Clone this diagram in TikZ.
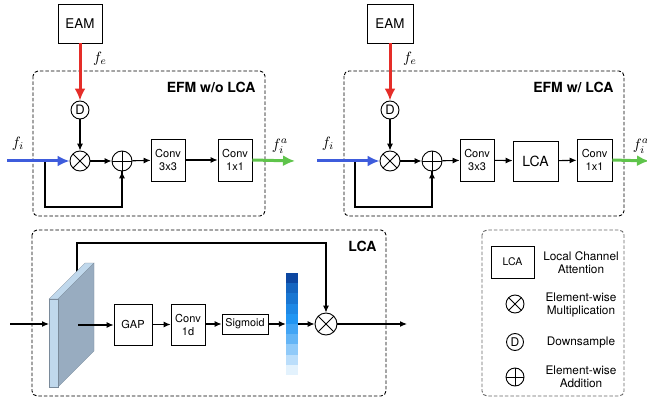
\documentclass[tikz,border=0pt]{standalone}
\usepackage{fontspec}
\setmainfont{TeX Gyre Heros}
\usetikzlibrary{arrows.meta,positioning,calc}
\definecolor{efmred}{RGB}{229,45,40}
\definecolor{efmblue}{RGB}{62,92,220}
\definecolor{efmgreen}{RGB}{95,196,75}
\definecolor{slabfront}{RGB}{192,216,236}
\definecolor{slabside}{RGB}{152,172,192}
\newcommand{\mlbl}[1]{\scalebox{1.5}{$#1$}}
\tikzset{std edge/.style={line width=1.1pt,-{Latex[length=7pt,width=6pt]}},
 bold edge/.style={line width=3pt,-{Latex[length=12pt,width=11pt]}},
 plain edge/.style={line width=1.1pt}}
\begin{document}
\begin{tikzpicture}[x=1pt,y=-1pt,
 blk/.style={draw,line width=0.8pt,align=center,inner sep=0pt,font=\fontsize{11}{13}\selectfont},
 mul/.style={circle,draw,line width=0.9pt,minimum size=#1,inner sep=0pt,
  path picture={\draw[line width=0.9pt] (path picture bounding box.north west)--(path picture bounding box.south east)
   (path picture bounding box.north east)--(path picture bounding box.south west);}},
 mul/.default=20pt,
 add/.style={circle,draw,line width=0.9pt,minimum size=#1,inner sep=0pt,
  path picture={\draw[line width=0.9pt] (path picture bounding box.north)--(path picture bounding box.south)
   (path picture bounding box.west)--(path picture bounding box.east);}},
 add/.default=20pt,
 dsamp/.style={circle,draw,line width=0.9pt,minimum size=18pt,inner sep=0pt,font=\fontsize{13}{13}\selectfont},
 group/.style={draw,line width=0.9pt,dash pattern=on 3.5pt off 2pt,rounded corners=5pt},
 grouptitle/.style={anchor=east,font=\bfseries\fontsize{14}{14}\selectfont},
 mathlbl/.style={inner sep=0pt},
 legtext/.style={align=center,font=\fontsize{11.8}{13}\selectfont}]
\useasboundingbox (0,0) rectangle (647,398);

% EFM without LCA
\draw[group] (33,71) rectangle (265,216);
\node[grouptitle] (T1) at (259,87) {EFM w/o LCA};
\node[blk,minimum width=44pt,minimum height=39pt,font=\fontsize{13.4}{14}\selectfont] (EAM1) at (80,23.5) {EAM};
\node[dsamp] (D1) at (80,110) {D};
\node[mul] (M1) at (80,161) {};
\node[add] (A1) at (122,161) {};
\node[blk,minimum width=34pt,minimum height=42pt] (C31) at (168,160) {Conv\\3x3};
\node[blk,minimum width=34pt,minimum height=42pt] (C11) at (235,160) {Conv\\1x1};
\coordinate (IN1) at (7,161);
\coordinate (SP1) at (45,161);
\coordinate (OUT1) at (295,161);
\node[mathlbl] (FI1) at (18,144) {\mlbl{f_i}};
\node[mathlbl] (FE1) at (100,59) {\mlbl{f_e}};
\node[mathlbl] (FA1) at (280,146) {\mlbl{f^a_i}};

\draw[plain edge] (SP1) -- ++(0,46) -| (A1.south);
\draw[std edge] ($(A1.south)+(0,12)$) -- (A1.south);
\draw[bold edge,efmblue] (IN1) -- (M1.west);
\draw[bold edge,efmred] (EAM1.south) -- (D1.north);
\draw[std edge] (D1) -- (M1);
\draw[std edge] (M1) -- (A1);
\draw[std edge] (A1) -- (C31);
\draw[std edge] (C31) -- (C11);
\draw[bold edge,efmgreen] (C11.east) -- (OUT1);

% EFM with LCA
\draw[group] (344,71) rectangle (624,216);
\node[grouptitle] (T2) at (617,87) {EFM w/ LCA};
\node[blk,minimum width=46pt,minimum height=39pt,font=\fontsize{13.4}{14}\selectfont] (EAM2) at (390,23.5) {EAM};
\node[dsamp] (D2) at (390,110) {D};
\node[mul] (M2) at (390,161) {};
\node[add] (A2) at (432,161) {};
\node[blk,minimum width=34pt,minimum height=42pt] (C32) at (477,160) {Conv\\3x3};
\node[blk,minimum width=45pt,minimum height=40pt,font=\fontsize{14}{14}\selectfont] (LCA2) at (535.5,161) {LCA};
\node[blk,minimum width=35pt,minimum height=42pt] (C12) at (594.5,160) {Conv\\1x1};
\coordinate (IN2) at (317,161);
\coordinate (SP2) at (355,161);
\coordinate (OUT2) at (649,161);
\node[mathlbl] (FI2) at (328,144) {\mlbl{f_i}};
\node[mathlbl] (FE2) at (410,59) {\mlbl{f_e}};
\node[mathlbl] (FA2) at (641,146) {\mlbl{f^a_i}};

\draw[plain edge] (SP2) -- ++(0,46) -| (A2.south);
\draw[std edge] ($(A2.south)+(0,12)$) -- (A2.south);
\draw[bold edge,efmblue] (IN2) -- (M2.west);
\draw[bold edge,efmred] (EAM2.south) -- (D2.north);
\draw[std edge] (D2) -- (M2);
\draw[std edge] (M2) -- (A2);
\draw[std edge] (A2) -- (C32);
\draw[std edge] (C32) -- (LCA2);
\draw[std edge] (LCA2) -- (C12);
\draw[bold edge,efmgreen] (C12.east) -- (OUT2);

% LCA detail
\draw[group] (32,230) rectangle (386,396);
\node[grouptitle] (T3) at (380,246) {LCA};
\coordinate (TOP) at (77,272);
\node[mul=22pt] (M3) at (326,324) {};
\draw[plain edge] (TOP) -- (77,243) -| ($(M3.north)+(0,-10)$);
\draw[std edge] ($(M3.north)+(0,-12)$) -- (M3.north);
% slab
\fill[slabfront,draw=slabside!80!black,line width=0.3pt] (49,299) -- (85,263) -- (94,263) -- (58,299) -- cycle;
\fill[slabside,draw=slabside!80!black,line width=0.3pt] (58,299) -- (94,263) -- (94,351) -- (58,387) -- cycle;
\fill[slabfront,draw=slabside!80!black,line width=0.3pt] (49,299) rectangle (58,387);
\coordinate (IN3) at (10,324);
\coordinate (SLAB) at (49,324);
\coordinate (MID) at (78,325);
\coordinate (OUT3) at (407,324);
\node[blk,minimum width=38pt,minimum height=41pt] (GAP) at (133,324.5) {GAP};
\node[blk,minimum width=34pt,minimum height=41pt] (C1D) at (188,324.5) {Conv\\1d};
\node[blk,minimum width=46pt,minimum height=20pt,font=\fontsize{10.8}{11}\selectfont] (SIG) at (245,324) {Sigmoid};
\foreach \c [count=\k from 0] in {0D47A1,1565C0,1976D2,1E88E5,2196F3,42A5F5,64B5F6,90CAF9,BBDEFB,E3F2FD}{
 \definecolor{barc}{HTML}{\c}
 \fill[barc] (286,{273+10.2*\k}) rectangle (298,{283.2+10.2*\k});
}
\node[minimum width=12pt,minimum height=102pt,inner sep=0pt] (BAR) at (292,324) {};

\draw[std edge] (IN3) -- (SLAB);
\draw[std edge] (MID) -- (GAP.west |- MID);
\draw[std edge] (GAP) -- (C1D);
\draw[std edge] (C1D.east |- SIG) -- (SIG);
\draw[std edge] (SIG) -- (BAR.west |- SIG);
\draw[std edge] (BAR.east |- M3) -- (M3);
\draw[std edge] (M3) -- (OUT3);

% legend
\draw[group,draw=black!60] (482,230) rectangle (624,396);
\node[blk,minimum width=43pt,minimum height=32pt,font=\fontsize{10.5}{11}\selectfont] (LLCA) at (512.5,262) {LCA};
\node[mul=18pt] (LMUL) at (515,304) {};
\node[dsamp,minimum size=17pt,font=\fontsize{12}{12}\selectfont] (LD) at (515,342) {D};
\node[add=18pt] (LADD) at (515,377) {};
\node[legtext] (TLCA) at (581,263) {Local Channel\\Attention};
\node[legtext] (TMUL) at (581,305) {Element-wise\\Multiplication};
\node[legtext] (TD) at (581,342) {Downsample};
\node[legtext] (TADD) at (581,377) {Element-wise\\Addition};
\end{tikzpicture}
\end{document}
